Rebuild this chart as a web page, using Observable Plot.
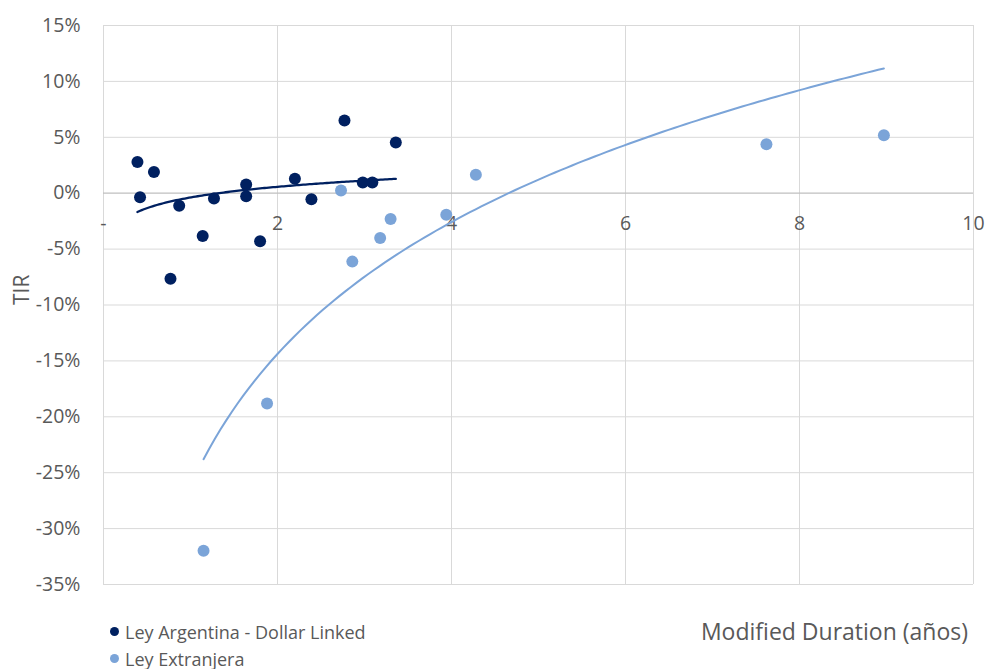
<!DOCTYPE html>
<html>
<head>
<meta charset="utf-8">
<script src="https://cdn.jsdelivr.net/npm/d3@7"></script>
<script src="https://cdn.jsdelivr.net/npm/@observablehq/plot@0.6"></script>
<style>
  html, body { margin: 0; padding: 0; background: #fff; }
  body { width: 988px; height: 669px; overflow: hidden; font-family: "Open Sans", sans-serif; position: relative; }
  #chart svg { display: block; }
  .legend { position: absolute; left: 110px; top: 618px; font-size: 18px; color: #595959; }
  .legend div { display: flex; align-items: center; height: 27px; }
  .legend span.dot { width: 9px; height: 9px; border-radius: 50%; display: inline-block; margin-right: 6px; }
  .xlabel { position: absolute; right: 20px; top: 615px; font-size: 23px; color: #595959; }
</style>
</head>
<body>
<div id="chart"></div>
<div class="legend">
  <div><span class="dot" style="background:#002060"></span><span id="s1"></span></div>
  <div><span class="dot" style="background:#7ba4d8"></span><span id="s2"></span></div>
</div>
<div class="xlabel" id="xl"></div>
<script>
// ---- data ----
const seriesNames = ["Ley Argentina - Dollar Linked", "Ley Extranjera"];
const xLabel = "Modified Duration (años)";
const yLabel = "TIR";

// Ley Argentina - Dollar Linked: modified duration (años), TIR (%)
const argDuration = [0.39, 0.42, 0.58, 0.77, 0.87, 1.14, 1.27, 1.64, 1.64, 1.80, 2.20, 2.39, 2.77, 2.98, 3.09, 3.36];
const argTIR      = [2.79, -0.36, 1.89, -7.66, -1.13, -3.82, -0.47, 0.78, -0.27, -4.30, 1.30, -0.54, 6.50, 0.96, 0.96, 4.54];

// Ley Extranjera
const extDuration = [1.15, 1.88, 2.73, 2.86, 3.18, 3.30, 3.94, 4.28, 7.62, 8.97];
const extTIR      = [-31.98, -18.80, 0.24, -6.12, -4.01, -2.30, -1.92, 1.65, 4.38, 5.19];

const xTicks = [0, 2, 4, 6, 8, 10];
const yTicks = [15, 10, 5, 0, -5, -10, -15, -20, -25, -30, -35];

// ---- build ----
const colors = ["#002060", "#7ba4d8"];
const argPts = argDuration.map((x, i) => ({x, y: argTIR[i], s: seriesNames[0]}));
const extPts = extDuration.map((x, i) => ({x, y: extTIR[i], s: seriesNames[1]}));

// logarithmic trend line (least squares of y on ln x), like the spreadsheet trendline
function logTrend(pts) {
  const L = pts.map(p => Math.log(p.x));
  const mL = d3.mean(L), mY = d3.mean(pts, p => p.y);
  let num = 0, den = 0;
  pts.forEach((p, i) => { num += (L[i] - mL) * (p.y - mY); den += (L[i] - mL) ** 2; });
  const b = num / den, a = mY - b * mL;
  const [x0, x1] = d3.extent(pts, p => p.x);
  const n = 120;
  return d3.range(n + 1).map(k => {
    const x = x0 + (x1 - x0) * k / n;
    return {x, y: a + b * Math.log(x)};
  });
}
const argTrend = logTrend(argPts);
const extTrend = logTrend(extPts);

const textColor = "#595959";
const fontFam = "'Open Sans', sans-serif";

const chart = Plot.plot({
  width: 988,
  height: 600,
  marginLeft: 103,
  marginRight: 15,
  marginTop: 25,
  marginBottom: 16,
  style: {fontFamily: fontFam, color: textColor, background: "#fff", overflow: "visible"},
  x: {domain: [0, 10], axis: null},
  y: {domain: [-35, 15], axis: null},
  marks: [
    Plot.ruleX(xTicks, {stroke: "#d9d9d9", strokeWidth: 1}),
    Plot.ruleY(yTicks.filter(d => d !== 0), {stroke: "#d9d9d9", strokeWidth: 1}),
    Plot.ruleY([0], {stroke: "#bfbfbf", strokeWidth: 1.2}),
    Plot.text(yTicks, {x: 0, y: d => d, text: d => d + "%", textAnchor: "end", dx: -23, fontSize: 19.5, fill: textColor}),
    Plot.text(xTicks, {x: d => d, y: 0, text: d => d === 0 ? "-" : String(d), dy: 31, fontSize: 19.5, fill: textColor}),
    Plot.text([yLabel], {frameAnchor: "left", text: d => d, rotate: -90, dx: -81, fontSize: 21, fill: textColor}),
    Plot.line(extTrend, {x: "x", y: "y", stroke: colors[1], strokeWidth: 2, curve: "linear"}),
    Plot.line(argTrend, {x: "x", y: "y", stroke: colors[0], strokeWidth: 2.3, curve: "linear"}),
    Plot.dot(extPts, {x: "x", y: "y", r: 6, fill: colors[1], stroke: "none"}),
    Plot.dot(argPts, {x: "x", y: "y", r: 6, fill: colors[0], stroke: "none"})
  ]
});
document.getElementById("chart").append(chart);
document.getElementById("s1").textContent = seriesNames[0];
document.getElementById("s2").textContent = seriesNames[1];
document.getElementById("xl").textContent = xLabel;
</script>
</body>
</html>
